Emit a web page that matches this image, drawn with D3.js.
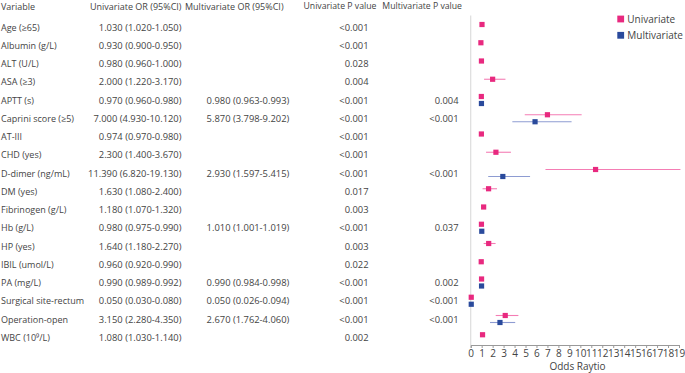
<!DOCTYPE html>
<html><head><meta charset="utf-8">
<script src="https://cdn.jsdelivr.net/npm/d3@7"></script>
<style>
html,body{margin:0;padding:0;background:#fff;}
svg{display:block;}
text{font-family:"Open Sans",sans-serif;fill:#444;}
</style></head>
<body><svg id="c" width="685" height="373"></svg>
<script>
const variables = ["Age (\u226565)","Albumin (g/L)","ALT (U/L)","ASA (\u22653)","APTT (s)","Caprini score (\u22655)","AT-III","CHD (yes)","D-dimer (ng/mL)","DM (yes)","Fibrinogen (g/L)","Hb (g/L)","HP (yes)","IBIL (umol/L)","PA (mg/L)","Surgical site-rectum","Operation-open","WBC (10\u2079/L)"];
const uniOR    = [1.030,0.930,0.980,2.000,0.970,7.000,0.974,2.300,11.390,1.630,1.180,0.980,1.640,0.960,0.990,0.050,3.150,1.080];
const uniLow   = [1.020,0.900,0.960,1.220,0.960,4.930,0.970,1.400,6.820,1.080,1.070,0.975,1.180,0.920,0.989,0.030,2.280,1.030];
const uniHigh  = [1.050,0.950,1.000,3.170,0.980,10.120,0.980,3.670,19.130,2.400,1.320,0.990,2.270,0.990,0.992,0.080,4.350,1.140];
const uniP     = ["<0.001","<0.001","0.028","0.004","<0.001","<0.001","<0.001","<0.001","<0.001","0.017","0.003","<0.001","0.003","0.022","<0.001","<0.001","<0.001","0.002"];
const multiOR  = [null,null,null,null,0.980,5.870,null,null,2.930,null,null,1.010,null,null,0.990,0.050,2.670,null];
const multiLow = [null,null,null,null,0.963,3.798,null,null,1.597,null,null,1.001,null,null,0.984,0.026,1.762,null];
const multiHigh= [null,null,null,null,0.993,9.202,null,null,5.415,null,null,1.019,null,null,0.998,0.094,4.060,null];
const multiP   = [null,null,null,null,"0.004","<0.001",null,null,"<0.001",null,null,"0.037",null,null,"0.002","<0.001","<0.001",null];
const headers  = ["Variable","Univariate OR (95%CI)","Multivariate OR (95%CI)","Univariate P value","Multivariate P value"];
const xTicks   = d3.range(0,20);
const seriesNames = ["Univariate","Multivariate"];

const pink = "#E8297F", blue = "#2A4A9C";
const pinkLine = "#F47DB4", blueLine = "#8E9CD2";
const fs = 9, fsNum = 9.4;

const svg = d3.select("#c");
const y = d3.scalePoint().domain(variables).range([27, 337.25]);
const x = d3.scaleLinear().domain([0,19]).range([470.7, 679]);
const fmt = d3.format(".3f");

// headers
const hdr = svg.append("g").attr("font-size", fs);
hdr.append("text").attr("x",1).attr("y",6).attr("dominant-baseline","central").text(headers[0]);
hdr.append("text").attr("x",181.5).attr("y",6).attr("text-anchor","end").attr("dominant-baseline","central").text(headers[1]);
hdr.append("text").attr("x",185).attr("y",6).attr("dominant-baseline","central").text(headers[2]);
hdr.append("text").attr("x",303.5).attr("y",6).attr("font-size",8.7).attr("dominant-baseline","central").text(headers[3]);
hdr.append("text").attr("x",462).attr("y",6).attr("font-size",8.7).attr("text-anchor","end").attr("dominant-baseline","central").text(headers[4]);

const rows = variables.map((v,i)=>({v,i,uo:uniOR[i],ul:uniLow[i],uh:uniHigh[i],up:uniP[i],mo:multiOR[i],ml:multiLow[i],mh:multiHigh[i],mp:multiP[i]}));
const tg = svg.append("g").attr("font-size", fs);
rows.forEach(r=>{
  const cy = y(r.v);
  tg.append("text").attr("x",1).attr("y",cy).attr("dominant-baseline","central").text(r.v);
  tg.append("text").attr("x",181.5).attr("y",cy).attr("font-size",fsNum).attr("text-anchor","end").attr("dominant-baseline","central")
    .text(`${fmt(r.uo)} (${fmt(r.ul)}-${fmt(r.uh)})`);
  tg.append("text").attr("x",368.6).attr("y",cy).attr("font-size",fsNum).attr("text-anchor","end").attr("dominant-baseline","central").text(r.up);
  if (r.mo!=null){
    tg.append("text").attr("x",289.3).attr("y",cy).attr("font-size",fsNum).attr("text-anchor","end").attr("dominant-baseline","central")
      .text(`${fmt(r.mo)} (${fmt(r.ml)}-${fmt(r.mh)})`);
    tg.append("text").attr("x",458.6).attr("y",cy).attr("font-size",fsNum).attr("text-anchor","end").attr("dominant-baseline","central").text(r.mp);
  }
});

// y axis line
svg.append("line").attr("x1",x(0)).attr("x2",x(0)).attr("y1",15.5).attr("y2",345).attr("stroke","#ddd").attr("stroke-width",1.2);

// x axis
const ax = svg.append("g").attr("transform","translate(0,345)")
  .call(d3.axisBottom(x).tickValues(xTicks).tickSize(3).tickPadding(2).tickFormat(d3.format("d")));
ax.select(".domain").attr("stroke","#999");
ax.selectAll(".tick line").attr("stroke","#999");
ax.selectAll(".tick text").attr("font-size",fs+1).attr("font-family","'Open Sans',sans-serif").attr("fill","#444");
svg.append("text").attr("x",577.5).attr("y",366).attr("text-anchor","middle").attr("dominant-baseline","central").attr("font-size",fs+1).text("Odds Raytio");

// marks
const sz = 5.2;
const mg = svg.append("g");
rows.forEach(r=>{
  const cy = y(r.v);
  const dual = r.mo!=null;
  const uy = dual ? cy-3.5 : cy-2.5;
  mg.append("line").attr("x1",x(r.ul)).attr("x2",x(r.uh)).attr("y1",uy).attr("y2",uy).attr("stroke",pinkLine).attr("stroke-width",1.1);
  mg.append("rect").attr("x",x(r.uo)-sz/2).attr("y",uy-sz/2).attr("width",sz).attr("height",sz).attr("fill",pink);
  if (dual){
    const my = cy+3.5;
    mg.append("line").attr("x1",x(r.ml)).attr("x2",x(r.mh)).attr("y1",my).attr("y2",my).attr("stroke",blueLine).attr("stroke-width",1.1);
    mg.append("rect").attr("x",x(r.mo)-sz/2).attr("y",my-sz/2).attr("width",sz).attr("height",sz).attr("fill",blue);
  }
});

// legend
const lg = svg.append("g");
[pink,blue].forEach((c,i)=>{
  const ly = 19 + i*16.3;
  lg.append("rect").attr("x",617.3).attr("y",ly-3.4).attr("width",6.8).attr("height",6.8).attr("fill",c);
  lg.append("text").attr("x",627.3).attr("y",ly).attr("dominant-baseline","central").attr("font-size",fs+1).text(seriesNames[i]);
});
</script></body></html>
